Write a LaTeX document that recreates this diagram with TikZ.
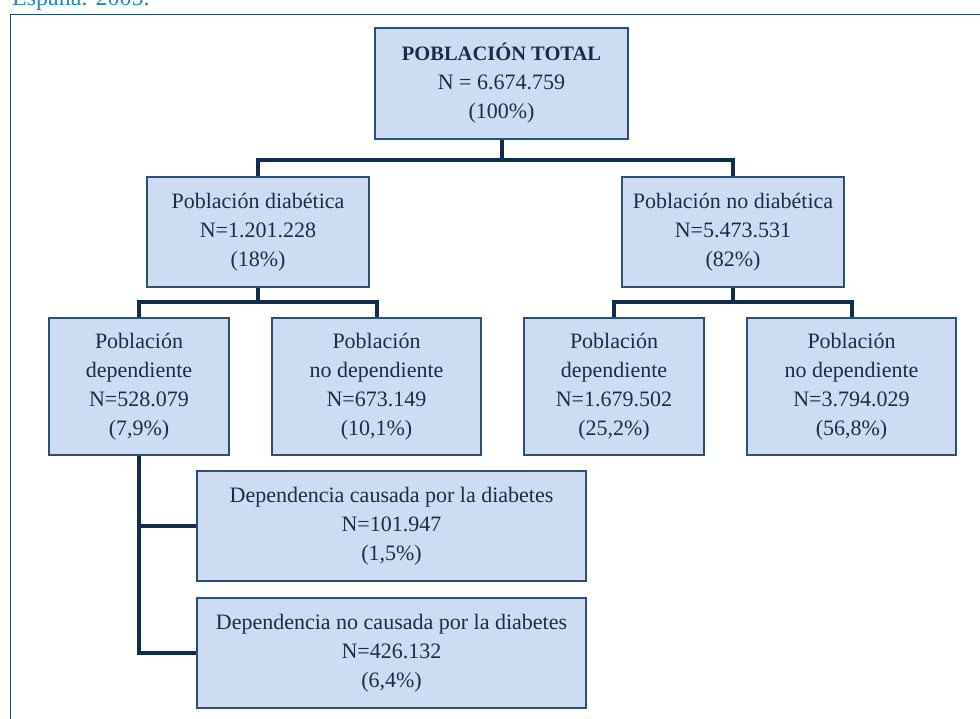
\documentclass[tikz,border=0pt]{standalone}
\usepackage{fontspec}
\setmainfont{Liberation Serif}
\usetikzlibrary{backgrounds}
\definecolor{boxfill}{HTML}{CDDCF0}
\definecolor{boxline}{HTML}{2C4F78}
\definecolor{connc}{HTML}{0F2D50}
\definecolor{txt}{HTML}{1B2C4A}
\definecolor{framec}{HTML}{1F4B7A}
\definecolor{captc}{HTML}{2288CC}
\begin{document}
\begin{tikzpicture}[x=1pt,y=-1pt,
  box/.style={draw=boxline, line width=1.2pt, fill=boxfill, text=txt, align=center,
    inner sep=0pt, font=\fontsize{22}{29}\selectfont},
  conn/.style={draw=connc, line width=4pt},
  framestyle/.style={draw=framec, line width=1.5pt}]
\useasboundingbox (0,0) rectangle (980,719);
\clip (0,0) rectangle (980,719);

\node[anchor=base west, text=captc, font=\fontsize{24}{29}\selectfont, inner sep=0pt] (capt) at (12,6) {España. 2005.};
\draw[framestyle] (10.5,14.5) rectangle (1000,740);

\node[box, minimum width=253pt, minimum height=111pt] (tot) at (501.5,83.5)
  {{\fontsize{20.5}{29}\selectfont\bfseries POBLACIÓN TOTAL}\\ N = 6.674.759\\ (100\%)};

\node[box, minimum width=222pt, minimum height=110pt] (dia) at (258,232)
  {Población diabética\\ N=1.201.228\\ (18\%)};
\node[box, minimum width=222pt, minimum height=110pt] (nodia) at (733,232)
  {Población no diabética\\ N=5.473.531\\ (82\%)};

\node[box, minimum width=180pt, minimum height=137pt] (a) at (139,386.5)
  {Población\\ dependiente\\ N=528.079\\ (7,9\%)};
\node[box, minimum width=209pt, minimum height=137pt] (b) at (376.5,386.5)
  {Población\\ no dependiente\\ N=673.149\\ (10,1\%)};
\node[box, minimum width=180pt, minimum height=137pt] (c) at (614,386.5)
  {Población\\ dependiente\\ N=1.679.502\\ (25,2\%)};
\node[box, minimum width=209pt, minimum height=137pt] (d) at (851.5,386.5)
  {Población\\ no dependiente\\ N=3.794.029\\ (56,8\%)};

\node[box, minimum width=389pt, minimum height=110pt] (e) at (391.5,526)
  {Dependencia causada por la diabetes\\ N=101.947\\ (1,5\%)};
\node[box, minimum width=389pt, minimum height=110pt] (f) at (391.5,653)
  {Dependencia no causada por la diabetes\\ N=426.132\\ (6,4\%)};

\coordinate (j1) at (501.5,160);
\coordinate (j2) at (258,302);
\coordinate (j3) at (733,302);

\begin{scope}[on background layer]
\draw[conn] (tot.south) -- (j1);
\draw[conn] (dia.north) |- (j1) -| (nodia.north);
\draw[conn] (dia.south) -- (j2);
\draw[conn] (a.north) |- (j2) -| (b.north);
\draw[conn] (nodia.south) -- (j3);
\draw[conn] (c.north) |- (j3) -| (d.north);
\draw[conn] (a.south) |- (e.west);
\draw[conn] (a.south) |- (f.west);
\end{scope}
\end{tikzpicture}
\end{document}
